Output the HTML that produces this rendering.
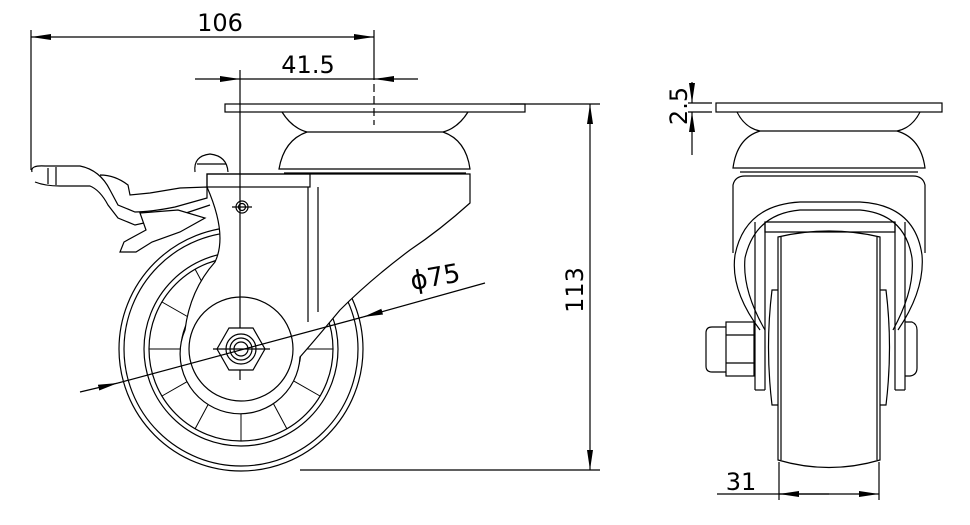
<!DOCTYPE html>
<html><head><style>html,body{margin:0;padding:0;background:#fff}svg{display:block}</style></head>
<body>
<svg width="970" height="525" viewBox="0 0 970 525" xmlns="http://www.w3.org/2000/svg" font-family="'DejaVu Sans','Liberation Sans',sans-serif">
<defs>
<marker id="a" viewBox="0 0 20 8" refX="20" refY="4" markerWidth="20" markerHeight="8" orient="auto" markerUnits="userSpaceOnUse"><path d="M0,1 L20,4 L0,7 z" fill="#000"/></marker>
</defs>
<g fill="none" stroke="#000" stroke-width="1.2">
<!-- dims top -->
<line x1="31" y1="30" x2="31" y2="170"/>
<line x1="374" y1="30" x2="374" y2="80"/>
<line x1="374" y1="84" x2="374" y2="125" stroke-dasharray="8,4"/>
<line x1="200" y1="37" x2="31" y2="37" marker-end="url(#a)"/>
<line x1="200" y1="37" x2="374" y2="37" marker-end="url(#a)"/>
<line x1="195" y1="79" x2="240" y2="79" marker-end="url(#a)"/>
<line x1="240" y1="79" x2="374" y2="79"/>
<line x1="418" y1="79" x2="374" y2="79" marker-end="url(#a)"/>
<!-- 113 -->
<line x1="510" y1="104" x2="600" y2="104"/>
<line x1="300" y1="470" x2="600" y2="470"/>
<line x1="590" y1="290" x2="590" y2="104" marker-end="url(#a)"/>
<line x1="590" y1="290" x2="590" y2="470" marker-end="url(#a)"/>

<!-- LEFT VIEW -->
<rect x="225" y="104" width="300" height="8"/>
<path d="M282,112 Q292,128 307,132 L443,132 Q458,128 468,112"/>
<path d="M307,132 Q284,140 279,169 L470,169 Q466,140 443,132"/>
<line x1="284" y1="173" x2="466" y2="173"/>
<!-- wheel -->
<circle cx="241" cy="349" r="122"/>
<circle cx="241" cy="349" r="117"/>
<circle cx="241" cy="349" r="97"/>
<circle cx="241" cy="349" r="92"/>
<g stroke-width="1">
<line x1="241" y1="410" x2="241" y2="441"/>
<line x1="210" y1="401" x2="195" y2="429"/>
<line x1="272" y1="401" x2="287" y2="429"/>
<line x1="190" y1="380" x2="162" y2="396"/>
<line x1="292" y1="380" x2="320" y2="396"/>
<line x1="181" y1="349" x2="149" y2="349"/>
<line x1="301" y1="349" x2="333" y2="349"/>
<line x1="190" y1="318" x2="162" y2="302"/>
<line x1="210" y1="297" x2="195" y2="269"/>
</g>
<circle cx="241" cy="349" r="60"/>
<!-- fork body, white filled over wheel -->
<path fill="#fff" d="M207,174 L470,174 L470,203 Q440,230 410,250 Q370,280 340,310 Q315,340 300,357 A60,60 0 1 1 185,330 Q190,290 215,262 Q228,235 207,187 Z"/>
<circle cx="241" cy="349" r="52"/>
<rect x="207" y="174" width="103" height="13"/>
<line x1="308" y1="187" x2="308" y2="322"/>
<line x1="318" y1="187" x2="318" y2="312"/>
<path fill="#fff" d="M195,172 Q193,156 210,154 Q227,156 228,172"/>
<line x1="197" y1="164" x2="226" y2="164"/>
<!-- brake lever -->
<path fill="#fff" d="M32,172 Q30,165 45,166 L80,166 Q100,170 110,190 L118,205 L135,212 Q150,212 175,207 L207,198 L207,187 L180,188 L150,193 L130,195 L128,185 Q115,175 100,175"/>
<path d="M35,182 Q45,186 60,186 L90,186 Q100,190 108,205 L118,218 L135,225 L180,215 L210,205"/>
<path fill="#fff" d="M140,213 L178,210 L205,218 L180,232 L152,242 L136,252 L120,252 L124,242 L146,230 Z"/>
<line x1="48" y1="168" x2="48" y2="184"/><line x1="56" y1="167" x2="56" y2="185"/>
<!-- center axis -->
<line x1="240" y1="70" x2="240" y2="380"/>
<circle cx="242" cy="207" r="6"/><circle cx="242" cy="207" r="3.5"/>
<line x1="232" y1="207" x2="252" y2="207"/>
<polygon fill="#fff" points="265,349 253,370 229,370 217,349 229,328 253,328"/>
<circle cx="241" cy="349" r="15"/><circle cx="241" cy="349" r="11"/><circle cx="241" cy="349" r="7"/>
<line x1="213" y1="349" x2="270" y2="349"/>
<!-- phi75 leader -->
<line x1="80" y1="392" x2="118" y2="383" marker-end="url(#a)"/>
<line x1="118" y1="383" x2="363" y2="317"/>
<line x1="485" y1="283" x2="363" y2="317" marker-end="url(#a)"/>

<!-- RIGHT VIEW -->
<rect x="716" y="103" width="226" height="9"/>
<path d="M737,112 Q745,128 760,131 L897,131 Q912,128 920,112"/>
<path d="M760,131 Q737,138 733,168 L925,168 Q921,138 897,131"/>
<line x1="740" y1="172" x2="918" y2="172"/>
<path d="M733,253 L733,185 Q735,176 745,176 L913,176 Q923,176 925,185 L925,253"/>
<path d="M760,330 Q730,290 735,255 Q745,205 800,202 L860,202 Q915,205 922,255 Q925,290 898,330"/>
<path d="M765,330 Q742,290 745,258 Q755,214 800,210 L860,210 Q905,214 912,258 Q915,290 893,330"/>
<path d="M765,222 L895,222 L895,232 L765,232 z"/>
<line x1="755" y1="222" x2="755" y2="390"/><line x1="765" y1="222" x2="765" y2="390"/>
<line x1="895" y1="222" x2="895" y2="390"/><line x1="905" y1="222" x2="905" y2="390"/>
<line x1="755" y1="390" x2="765" y2="390"/><line x1="895" y1="390" x2="905" y2="390"/>
<path d="M778,237 L778,460 Q829,475 880,460 L880,237 Q829,225 778,237 z"/>
<line x1="781" y1="237" x2="781" y2="460"/><line x1="877" y1="237" x2="877" y2="460"/>
<path d="M778,290 L772,290 Q765,347 772,405 L778,405"/>
<path d="M880,290 L886,290 Q893,347 886,405 L880,405"/>
<rect x="726" y="322" width="28" height="54"/>
<line x1="726" y1="335" x2="754" y2="335"/><line x1="726" y1="363" x2="754" y2="363"/>
<path d="M726,327 L712,327 Q706,327 706,333 L706,366 Q706,372 712,372 L726,372"/>
<path d="M905,322 L912,322 Q917,324 917,330 L917,368 Q917,375 910,376 L905,376"/>
<!-- 31 dim -->
<line x1="779" y1="462" x2="779" y2="500"/><line x1="879" y1="462" x2="879" y2="500"/>
<line x1="717" y1="494" x2="829" y2="494"/>
<line x1="829" y1="494" x2="779" y2="494" marker-end="url(#a)"/>
<line x1="829" y1="494" x2="879" y2="494" marker-end="url(#a)"/>
<!-- 2.5 dim -->
<line x1="688" y1="103" x2="712" y2="103"/><line x1="688" y1="112" x2="712" y2="112"/>
<line x1="692" y1="82" x2="692" y2="103" marker-end="url(#a)"/>
<line x1="692" y1="155" x2="692" y2="112" marker-end="url(#a)"/>
</g>
<g fill="#000" font-size="24">
<text x="220" y="31" text-anchor="middle">106</text>
<text x="308" y="73" text-anchor="middle">41.5</text>
<text transform="translate(583,290) rotate(-90)" text-anchor="middle">113</text>
<text transform="translate(687,106) rotate(-90)" text-anchor="middle">2.5</text>
<text x="741" y="490" text-anchor="middle">31</text>
<text transform="translate(412,290) rotate(-10)" font-size="26">ϕ75</text>
</g>
</svg>
</body></html>
